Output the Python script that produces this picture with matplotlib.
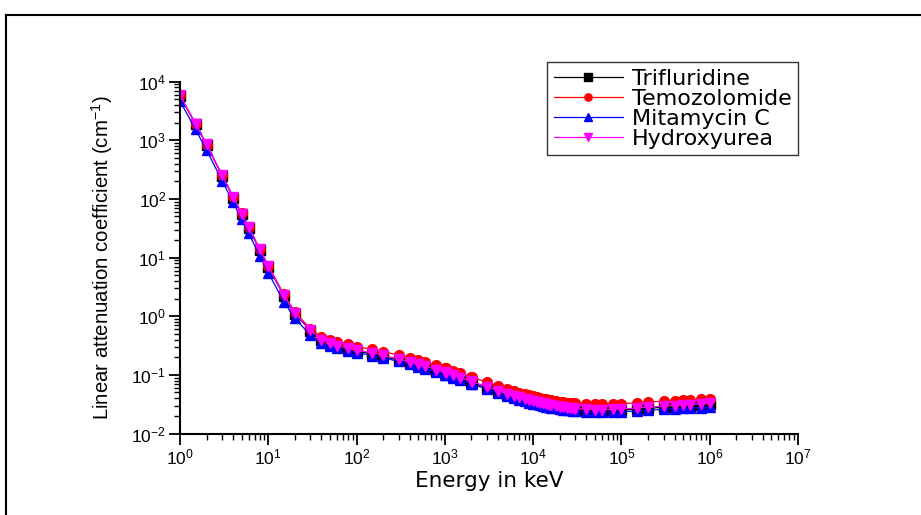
import numpy as np
import matplotlib
matplotlib.use("Agg")
import matplotlib.pyplot as plt
from matplotlib.ticker import LogLocator, NullFormatter
from matplotlib.lines import Line2D

plt.rcParams['font.family'] = ['Liberation Sans', 'DejaVu Sans']
plt.rcParams['mathtext.fontset'] = 'custom'
plt.rcParams['mathtext.rm'] = 'Liberation Sans'
plt.rcParams['mathtext.it'] = 'Liberation Sans:italic'
plt.rcParams['axes.unicode_minus'] = False

# photon energy grid (keV)
energy = [1, 1.5, 2, 3, 4, 5, 6, 8, 10,
          15, 20, 30, 40, 50, 60, 80, 100,
          150, 200, 300, 400, 500, 600, 800, 1000,
          1022, 1250, 1500, 2000, 2044, 3000, 4000, 5000, 6000, 7000, 8000, 9000, 10000,
          11000, 12000, 13000, 14000, 15000, 16000, 18000, 20000, 22000, 24000, 26000, 28000, 30000,
          40000, 50000, 60000, 80000, 100000,
          150000, 200000, 300000, 400000, 500000, 600000, 800000, 1000000]

# linear attenuation coefficients (cm^-1)
trifluridine = [5700, 1870, 825, 248, 105, 54.5, 31.8, 13.3, 6.9,
                2.22, 1.11, 0.565, 0.385, 0.335, 0.305, 0.276, 0.256,
                0.227, 0.206, 0.179, 0.160, 0.146, 0.135, 0.118, 0.107,
                0.105, 0.095, 0.0865, 0.0745, 0.0736, 0.0601, 0.0516, 0.0461, 0.0423, 0.0395, 0.0373, 0.0357, 0.0343,
                0.0331, 0.0321, 0.0313, 0.0306, 0.0299, 0.0294, 0.0285, 0.0277, 0.0271, 0.0266, 0.0262, 0.0259, 0.0256,
                0.0248, 0.0246, 0.0246, 0.0248, 0.0252,
                0.0261, 0.0269, 0.0281, 0.0288, 0.0295, 0.0300, 0.0307, 0.0314]

temozolomide = [5800, 1900, 840, 255, 109, 57, 33.2, 14.0, 7.3,
                2.35, 1.18, 0.61, 0.435, 0.39, 0.362, 0.330, 0.300,
                0.272, 0.248, 0.218, 0.196, 0.180, 0.166, 0.146, 0.132,
                0.130, 0.117, 0.107, 0.092, 0.091, 0.0745, 0.0645, 0.0575, 0.0528, 0.0494, 0.0468, 0.0447, 0.0430,
                0.0415, 0.0403, 0.0393, 0.0384, 0.0376, 0.0370, 0.0359, 0.0350, 0.0343, 0.0337, 0.0333, 0.0329, 0.0326,
                0.0317, 0.0315, 0.0315, 0.0318, 0.0322,
                0.0334, 0.0343, 0.0356, 0.0364, 0.0370, 0.0374, 0.0380, 0.0385]

mitamycin = [4670, 1520, 676, 203, 87, 44.6, 25.8, 10.7, 5.5,
             1.76, 0.92, 0.476, 0.345, 0.308, 0.284, 0.258, 0.240,
             0.213, 0.195, 0.169, 0.151, 0.138, 0.128, 0.112, 0.101,
             0.0995, 0.090, 0.082, 0.0705, 0.0697, 0.0568, 0.0488, 0.0436, 0.0400, 0.0373, 0.0353, 0.0337, 0.0324,
             0.0313, 0.0303, 0.0295, 0.0288, 0.0282, 0.0277, 0.0268, 0.0261, 0.0256, 0.0251, 0.0247, 0.0244, 0.0241,
             0.0233, 0.0231, 0.0231, 0.0232, 0.0235,
             0.0243, 0.0249, 0.0258, 0.0264, 0.0268, 0.0271, 0.0276, 0.0280]

hydroxyurea = [5850, 1920, 845, 254, 108, 56, 32.6, 13.7, 7.1,
               2.29, 1.14, 0.58, 0.40, 0.345, 0.315, 0.285, 0.265,
               0.236, 0.214, 0.186, 0.166, 0.152, 0.140, 0.123, 0.111,
               0.109, 0.099, 0.090, 0.0775, 0.0765, 0.0625, 0.0537, 0.0480, 0.0440, 0.0411, 0.0388, 0.0371, 0.0357,
               0.0344, 0.0334, 0.0325, 0.0318, 0.0311, 0.0305, 0.0296, 0.0288, 0.0282, 0.0277, 0.0273, 0.0269, 0.0266,
               0.0258, 0.0256, 0.0256, 0.0258, 0.0262,
               0.0272, 0.0280, 0.0292, 0.0300, 0.0307, 0.0312, 0.0320, 0.0327]

series = [
    ("Trifluridine", trifluridine, "black", "s"),
    ("Temozolomide", temozolomide, "red", "o"),
    ("Mitamycin C", mitamycin, "blue", "^"),
    ("Hydroxyurea", hydroxyurea, "magenta", "v"),
]

fig = plt.figure(figsize=(9.21, 5.15), dpi=100)
ax = fig.add_axes([180 / 921, 1 - 433.5 / 515, 618 / 921, 352 / 515])

for name, vals, col, mk in series:
    ax.plot(energy, vals, color=col, marker=mk, markersize=7, linewidth=0.9,
            markeredgecolor=col, label=name)

ax.set_xscale('log')
ax.set_yscale('log')
ax.set_xlim(1, 1e7)
ax.set_ylim(1e-2, 1e4)

ax.xaxis.set_major_locator(LogLocator(base=10, numticks=20))
ax.yaxis.set_major_locator(LogLocator(base=10, numticks=20))
ax.xaxis.set_minor_locator(LogLocator(base=10, subs=np.arange(2, 10), numticks=20))
ax.yaxis.set_minor_locator(LogLocator(base=10, subs=np.arange(2, 10), numticks=20))
ax.xaxis.set_minor_formatter(NullFormatter())
ax.yaxis.set_minor_formatter(NullFormatter())

ax.spines['top'].set_visible(False)
ax.spines['right'].set_visible(False)
for s in ('left', 'bottom'):
    ax.spines[s].set_linewidth(1.5)
ax.tick_params(which='major', direction='out', length=8, width=1.3, labelsize=12.5, pad=2)
ax.tick_params(which='minor', direction='out', length=4, width=1.0)

ax.set_xlabel("Energy in keV", fontsize=15.5, family='DejaVu Sans', labelpad=3)
ax.set_ylabel("Linear attenuation coefficient (cm$^{-1}$)", fontsize=14.7, labelpad=12)

leg = ax.legend(loc='upper right', bbox_to_anchor=(1.0, 1.055),
                prop={'family': 'DejaVu Sans', 'size': 16}, markerscale=0.75,
                frameon=True, fancybox=False, edgecolor='black', handlelength=3.1,
                borderpad=0.3, labelspacing=0.0, handletextpad=0.4, borderaxespad=0)
leg.get_frame().set_linewidth(1.0)

# outer frame around the figure
fx = 6 / 921
fy = 1 - 15 / 515
fig.add_artist(Line2D([fx, fx], [0, fy], transform=fig.transFigure, color='black', linewidth=1.5))
fig.add_artist(Line2D([fx, 1], [fy, fy], transform=fig.transFigure, color='black', linewidth=1.5))

fig.savefig("out.png", dpi=100)
